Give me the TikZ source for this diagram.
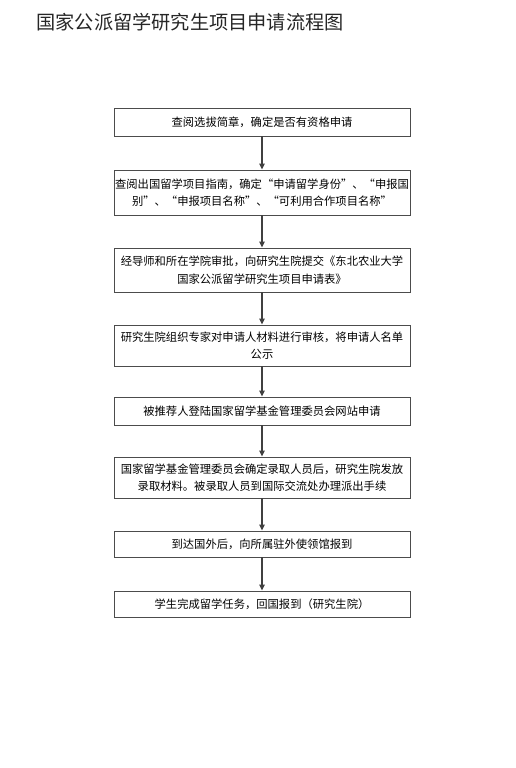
\documentclass[tikz,border=0pt]{standalone}
\usepackage{fontspec}
\setmainfont{Noto Sans CJK SC}
\usepackage{tikz}
\usetikzlibrary{arrows.meta}

\begin{document}
\begin{tikzpicture}[x=1pt,y=-1pt,
        box/.style={draw=black!70, line width=0.9pt, inner sep=0pt,
            minimum width=296pt, align=center,
            font=\fontsize{11.3}{17.5}\selectfont},
        flow/.style={draw=black!75, line width=1.4pt,
            -{Triangle[length=6pt,width=5.5pt]}}]
        \useasboundingbox (0,0) rectangle (516,768);
        \node[anchor=west, text=black!85, font=\fontsize{19.2}{22}\selectfont]
            (title) at (33,22) {国家公派留学研究生项目申请流程图};
        % 流程框
        \node[box, minimum height=28pt] (s1) at (262,122)
            {查阅选拔简章，确定是否有资格申请};
        \node[box, minimum height=45pt] (s2) at (262,192.5)
            {查阅出国留学项目指南，确定“申请留学身份”、“申报国\\别”、“申报项目名称”、“可利用合作项目名称”};
        \node[box, minimum height=44pt] (s3) at (262,270)
            {经导师和所在学院审批，向研究生院提交《东北农业大学\\国家公派留学研究生项目申请表》};
        \node[box, minimum height=41pt] (s4) at (262,345.5)
            {研究生院组织专家对申请人材料进行审核，将申请人名单\\公示};
        \node[box, minimum height=28pt] (s5) at (262,411)
            {被推荐人登陆国家留学基金管理委员会网站申请};
        \node[box, minimum height=41pt] (s6) at (262,477.5)
            {国家留学基金管理委员会确定录取人员后，研究生院发放\\录取材料。被录取人员到国际交流处办理派出手续};
        \node[box, minimum height=26pt] (s7) at (262,544)
            {到达国外后，向所属驻外使领馆报到};
        \node[box, minimum height=26pt] (s8) at (262,604)
            {学生完成留学任务，回国报到（研究生院）};
        % 箭头
        \foreach \a/\b in {s1/s2,s2/s3,s3/s4,s4/s5,s5/s6,s6/s7,s7/s8}
            \draw[flow] (\a) -- (\b);
    \end{tikzpicture}
\end{document}
